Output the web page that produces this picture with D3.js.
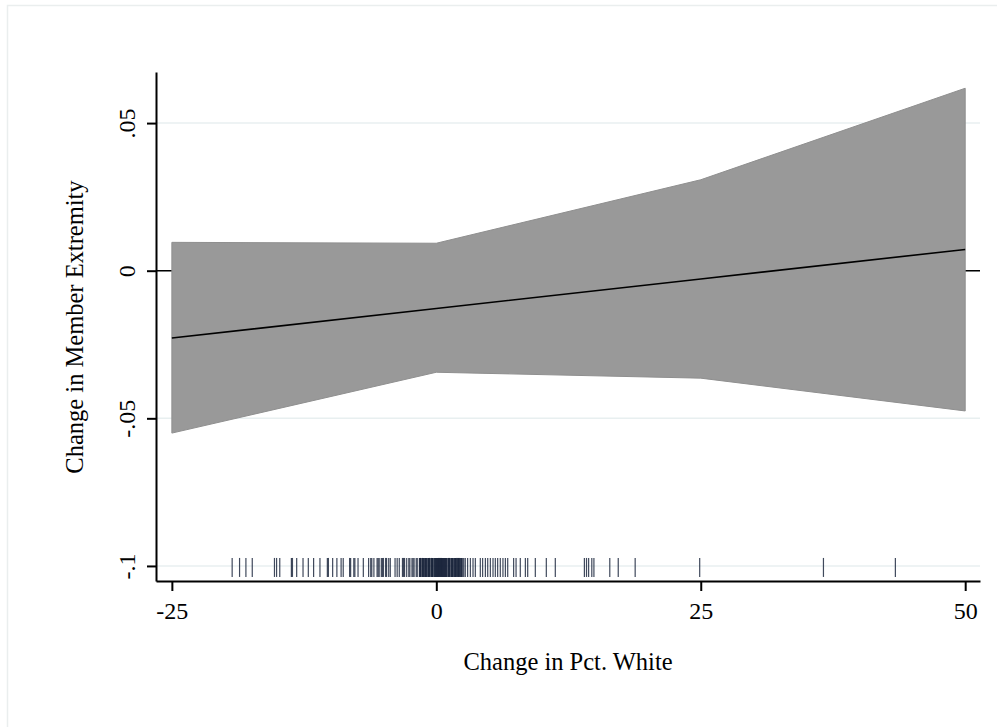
<!DOCTYPE html>
<html>
<head>
<meta charset="utf-8">
<script src="https://cdn.jsdelivr.net/npm/d3@7"></script>
<style>
  body { margin: 0; background: #fff; }
  svg { display: block; }
  text { font-family: "Liberation Serif", "Times New Roman", serif; fill: #000; }
</style>
</head>
<body>
<svg id="chart"></svg>
<script>
// margins at these values of the change in pct. white
const xVals = [-25, 0, 25, 50];
const estimate = [-0.0228, -0.0128, -0.0028, 0.0072];
const upper = [0.0096, 0.0093, 0.0308, 0.0618];
const lower = [-0.0550, -0.0344, -0.0364, -0.0475];

const xTicks = [-25, 0, 25, 50];
const xTickLabels = ["-25", "0", "25", "50"];
const yTicks = [0.05, 0, -0.05, -0.1];
const yTickLabels = [".05", "0", "-.05", "-.1"];

// observed values of the change in pct. white (rug)
const rugVals = [
  -19.3, -18.6, -18.0, -17.4,
  -15.3, -15.1, -14.8,
  -13.7, -13.6, -13.2, -12.6, -12.1, -11.6, -11.0,
  -10.3, -10.2, -9.8, -9.4, -9.0, -8.8,
  -8.2, -8.1, -7.8, -7.7, -7.4,
  -6.9, -6.4, -6.2, -6.1, -5.9, -5.6, -5.4, -5.1, -5.0, -4.7, -4.5, -4.35,
  -5.5, -5.2, -4.8,
  -3.9, -3.7, -3.5,
  -3.2, -3.0, -2.8, -2.5, -2.3, -2.1, -1.8, -1.6,
  -3.1, -2.6, -2.2, -1.9,
  -1.55, -1.45, -1.35, -1.2, -1.1, -1.0, -0.9, -0.8, -0.7, -0.6, -0.5, -0.4,
  -0.3, -0.2, -0.1, 0, 0.05, 0.1, 0.2, 0.3, 0.35, 0.4, 0.5, 0.6, 0.7, 0.75,
  0.8, 0.9, 1.0, 1.1, 1.2, 1.3, 1.4, 1.5, 1.6, 1.7, 1.8, 1.9, 2.0, 2.1,
  2.2, 2.3, 2.4, 2.5, 2.6,
  -1.5, -1.25, -0.95, -0.65, -0.35, -0.05, 0.15, 0.45, 0.65, 0.95, 1.25, 1.55, 1.85, 2.15,
  -1.3, -1.05, -0.75, -0.45, -0.15, 0.25, 0.55, 0.85, 1.15, 1.45, 1.75, 2.05, 2.35,
  2.74, 2.96, 3.22, 3.47, 3.69, 4.16, 4.38, 4.64, 4.86, 5.11, 5.36, 5.58, 5.80,
  6.05, 6.30, 6.53, 6.75,
  7.31, 7.54, 7.94, 8.42, 8.64, 9.36, 10.4, 11.25,
  14.0, 14.2, 14.4, 14.7, 14.9, 16.4, 17.2, 18.8,
  24.9, 36.6, 43.4
];

const W = 997, H = 727;
const svg = d3.select('#chart').attr('width', W).attr('height', H);

// outer graph region frame
svg.append('rect')
  .attr('x', 7.5).attr('y', 5.5)
  .attr('width', 1000).attr('height', 730)
  .attr('fill', 'none')
  .attr('stroke', '#eaeeee')
  .attr('stroke-width', 1.5);

const x = d3.scaleLinear().domain([-26.5, 51.4]).range([156, 980]);
const y = d3.scaleLinear().domain([-0.1051, 0.0673]).range([581, 72]);

// gridlines
svg.append('g')
  .selectAll('line')
  .data(yTicks)
  .join('line')
  .attr('x1', x.range()[0]).attr('x2', x.range()[1])
  .attr('y1', d => y(d)).attr('y2', d => y(d))
  .attr('stroke', '#e8eff0')
  .attr('stroke-width', 1.5);

// reference line at zero
svg.append('line')
  .attr('x1', x.range()[0]).attr('x2', x.range()[1])
  .attr('y1', y(0)).attr('y2', y(0))
  .attr('stroke', '#000')
  .attr('stroke-width', 1.5);

// confidence band
const area = d3.area()
  .x((d, i) => x(xVals[i]))
  .y0((d, i) => y(lower[i]))
  .y1((d, i) => y(upper[i]));

svg.append('path')
  .datum(xVals)
  .attr('d', area)
  .attr('fill', '#999999')
  .attr('stroke', '#8f8f8f')
  .attr('stroke-width', 1);

// point estimate
const line = d3.line()
  .x((d, i) => x(xVals[i]))
  .y(d => y(d));

svg.append('path')
  .datum(estimate)
  .attr('d', line)
  .attr('fill', 'none')
  .attr('stroke', '#000')
  .attr('stroke-width', 1.6);

// rug
svg.append('g')
  .selectAll('line')
  .data(rugVals)
  .join('line')
  .attr('x1', d => x(d)).attr('x2', d => x(d))
  .attr('y1', y(-0.1) - 8).attr('y2', y(-0.1) + 11)
  .attr('stroke', '#101c33')
  .attr('stroke-opacity', 0.8)
  .attr('stroke-width', 1.2);

// axes
const xAxis = d3.axisBottom(x).tickValues(xTicks).tickSize(10).tickPadding(6).tickSizeOuter(0)
  .tickFormat((d, i) => xTickLabels[i]);
const gx = svg.append('g').attr('transform', `translate(0,581)`).call(xAxis);
gx.select('.domain').attr('stroke', '#000').attr('stroke-width', 2);
gx.selectAll('.tick line').attr('stroke', '#000').attr('stroke-width', 2);
gx.selectAll('.tick text')
  .attr('y', 38).attr('dy', 0)
  .style('font-size', '24px')
  .style('font-family', '"Liberation Serif", serif');

const yAxis = d3.axisLeft(y).tickValues(yTicks).tickSize(9).tickSizeOuter(0)
  .tickFormat((d, i) => yTickLabels[i]);
const gy = svg.append('g').attr('transform', `translate(156,0)`).call(yAxis);
gy.select('.domain').attr('stroke', '#000').attr('stroke-width', 2);
gy.selectAll('.tick line').attr('stroke', '#000').attr('stroke-width', 2);
gy.selectAll('.tick text')
  .attr('x', null).attr('dy', null)
  .attr('transform', 'translate(-21,0) rotate(-90)')
  .attr('text-anchor', 'middle')
  .style('font-size', '24px')
  .style('font-family', '"Liberation Serif", serif');

// axis titles
svg.append('text')
  .attr('x', 568).attr('y', 670)
  .attr('text-anchor', 'middle')
  .style('font-size', '24.5px')
  .text('Change in Pct. White');

svg.append('text')
  .attr('transform', 'translate(83,327) rotate(-90)')
  .attr('text-anchor', 'middle')
  .style('font-size', '24.5px')
  .text('Change in Member Extremity');
</script>
</body>
</html>
